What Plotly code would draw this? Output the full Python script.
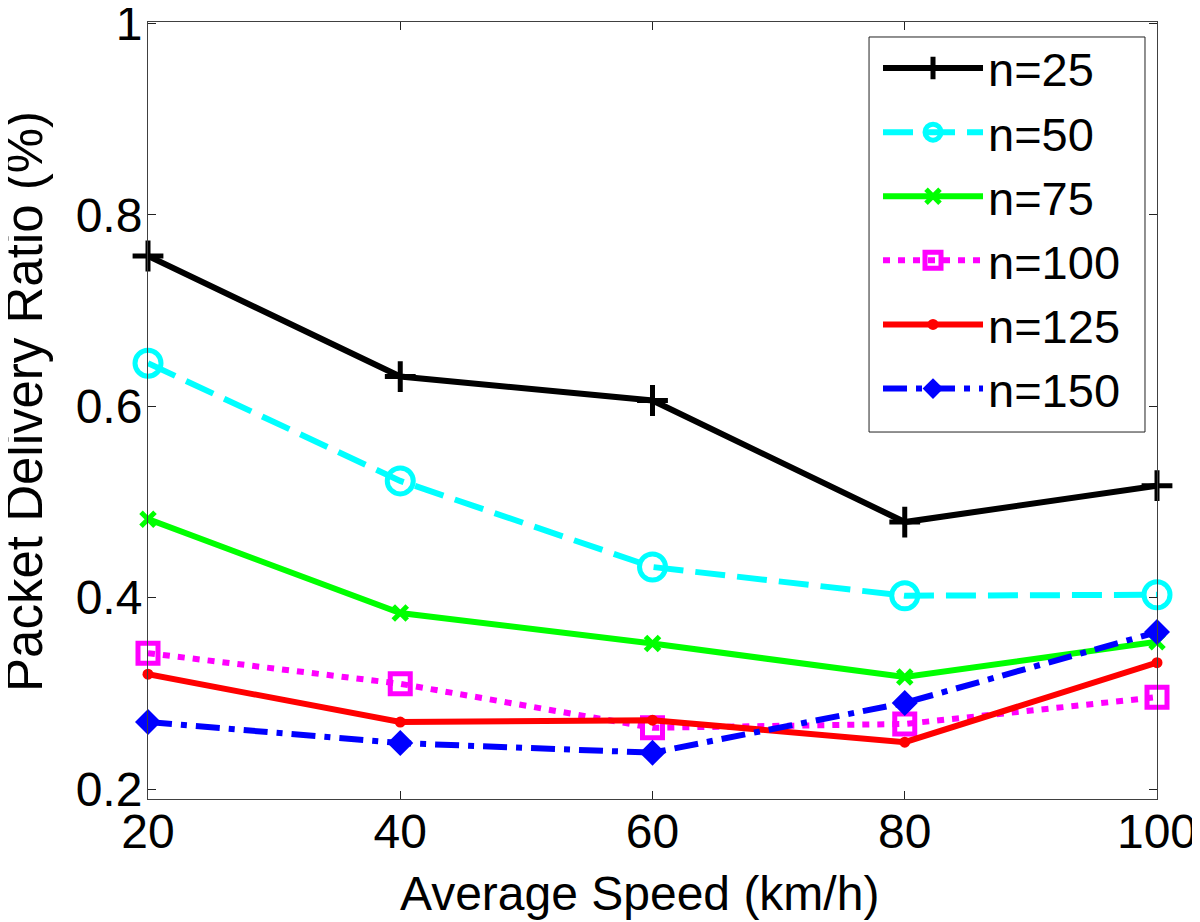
import plotly.graph_objects as go

speed = [20, 40, 60, 80, 100]
names = ["n=25", "n=50", "n=75", "n=100", "n=125", "n=150"]
n25 = [0.757, 0.631, 0.606, 0.479, 0.517]
n50 = [0.645, 0.522, 0.432, 0.402, 0.403]
n75 = [0.482, 0.384, 0.352, 0.317, 0.354]
n100 = [0.342, 0.310, 0.264, 0.268, 0.296]
n125 = [0.320, 0.270, 0.272, 0.249, 0.332]
n150 = [0.270, 0.248, 0.238, 0.290, 0.364]
yticks = [0.2, 0.4, 0.6, 0.8, 1.0]
ytick_labels = ["0.2", "0.4", "0.6", "0.8", "1"]
xticks = [20, 40, 60, 80, 100]

series = [n25, n50, n75, n100, n125, n150]
styles = [
    dict(color="#000000", dash="solid", symbol="cross-thin-open", size=22, mlw=5),
    dict(color="#00FFFF", dash="30px,12px", symbol="circle-open", size=26, mlw=5),
    dict(color="#00FF00", dash="solid", symbol="x-thin-open", size=14, mlw=5),
    dict(color="#FF00FF", dash="7px,8px", symbol="square-open", size=20, mlw=5),
    dict(color="#FF0000", dash="solid", symbol="circle", size=11, mlw=0),
    dict(color="#0000FF", dash="24px,9px,6px,9px", symbol="diamond", size=20, mlw=0),
]

fig = go.Figure()
for nm, ys, st in zip(names, series, styles):
    fig.add_trace(go.Scatter(
        x=speed, y=ys, name=nm, mode="lines+markers", cliponaxis=False,
        line=dict(color=st["color"], width=6, dash=st["dash"]),
        marker=dict(symbol=st["symbol"], size=st["size"], color=st["color"],
                    line=dict(color=st["color"], width=st["mlw"])),
    ))

font = "Liberation Sans, Arial, sans-serif"
# page body has an 8px margin, so the figure is offset by (8, 8)
fig.update_layout(
    width=1200, height=922,
    margin=dict(l=140, r=51, t=14, b=131, autoexpand=False),
    paper_bgcolor="white", plot_bgcolor="white",
    font=dict(family=font, size=48, color="black"),
    showlegend=True,
    legend=dict(
        x=0.7235, y=0.9884, xanchor="left", yanchor="top",
        bgcolor="rgba(0,0,0,0)", borderwidth=0,
        font=dict(size=47), itemwidth=100, tracegroupgap=0,
    ),
    shapes=[dict(
        type="rect", xref="paper", yref="paper", layer="above",
        x0=0.7146, x1=0.9881, y0=0.4723, y1=0.9807,
        fillcolor="white", line=dict(color="#222222", width=1),
    )],
    xaxis=dict(
        range=[20, 100], tickvals=xticks, ticks="inside", ticklen=8,
        tickcolor="#222222", showline=True, linecolor="#404040", linewidth=1,
        mirror="ticks", showgrid=False, zeroline=False, automargin=False,
        ticklabeloverflow="allow", ticklabelstandoff=-10,
        tickfont=dict(size=48),
    ),
    yaxis=dict(
        range=[0.1896, 1.0015], tickvals=yticks, ticktext=ytick_labels,
        ticks="inside", ticklen=8, tickcolor="#222222", showline=True,
        linecolor="#404040", linewidth=1, mirror="ticks", showgrid=False,
        zeroline=False, ticklabelstandoff=-5, automargin=False,
        ticklabeloverflow="allow",
        tickfont=dict(size=48),
    ),
    annotations=[
        dict(
            text="Average Speed (km/h)", xref="paper", yref="paper",
            x=0.4876, y=-0.121, xanchor="center", yanchor="middle",
            showarrow=False, font=dict(size=48),
        ),
        dict(
            text="Packet Delivery Ratio (%)", xref="paper", yref="paper",
            x=-0.1219, y=0.511, xanchor="center", yanchor="middle",
            textangle=-90, showarrow=False, font=dict(size=51),
        ),
    ],
)

fig.write_html("out.html")
